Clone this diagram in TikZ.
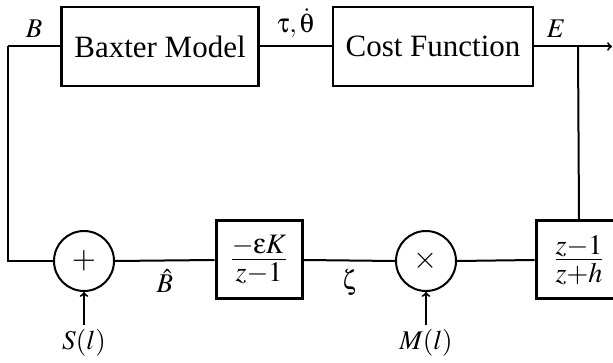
\documentclass[tikz,border=0pt]{standalone}
\usepackage{mathptmx}
\usepackage[Symbol]{upgreek}
\usepackage{fontspec}
\setmainfont{Liberation Serif}
\usetikzlibrary{arrows, shapes, positioning}

\begin{document}
\begin{tikzpicture}[x=1pt,y=-1pt,
 line width=2pt,
 block/.style={rectangle,draw,line width=2.5pt,minimum width=197pt,
   minimum height=79pt,font=\fontsize{31}{37}\selectfont},
 tf/.style={rectangle,draw,line width=3pt,minimum width=86pt,
   minimum height=78pt,font=\fontsize{38}{45}\selectfont},
 op/.style={circle,draw,minimum size=60pt,inner sep=0pt,
   font=\fontsize{31}{37}\selectfont},
 lbl/.style={font=\fontsize{27}{32}\selectfont,inner sep=3pt},
 elbl/.style={lbl,inner sep=8pt}]

  \useasboundingbox (0,0) rectangle (613,363);
  \clip (0,0) rectangle (613,363);

  \node[block] (baxter) at (160,46.5) {Baxter Model};
  \node[block,minimum width=200pt] (cost) at (433,46.5) {Cost Function};
  \node[op] (sum) at (84,261) {$+$};
  \node[tf] (gain) at (259,260) {$\frac{-\upepsilon K}{z-1}$};
  \node[op] (prod) at (426,261) {$\times$};
  \node[tf] (filt) at (579,260) {$\frac{z-1}{z+h}$};

  \node[lbl] (Sl) [below=33pt of sum] {$S(l)$};
  \node[lbl] (Ml) [below=33pt of prod] {$M(l)$};

  \coordinate (corner) at (8,46.5);
  \coordinate (tap) at (578,46.5);
  \coordinate (out) at (612,46.5);

  % top path
  \draw (corner) -- node[elbl,above] {$B$} (baxter.west);
  \draw (baxter.east) -- node[elbl,above] {$\uptau,\dot{\uptheta}$} (cost.west);
  \draw (cost.east) -- node[elbl,above] {$E$} (tap);
  \draw[->] (tap) -- (out);
  \draw (tap) -- (filt.north);

  % bottom path
  \draw (corner) |- (sum.west);
  \draw (sum.east) -- node[elbl,below] {$\hat{B}$} (gain.west);
  \draw (gain.east) -- node[elbl,below] {$\upzeta$} (prod.west);
  \draw (prod.east) -- (filt.west);

  \foreach \s/\t in {Sl/sum, Ml/prod} {
   \draw[->] (\s) -- (\t);}

\end{tikzpicture}
\end{document}
